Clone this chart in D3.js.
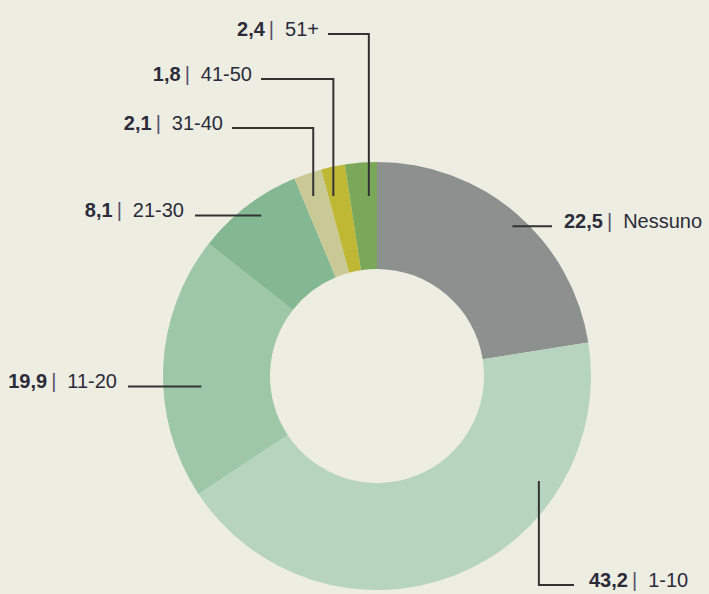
<!DOCTYPE html>
<html>
<head>
<meta charset="utf-8">
<title>donut</title>
<style>
  html, body { margin: 0; padding: 0; background: #eeede2; }
  svg { display: block; }
  .lbl { font-family: "Liberation Sans", Arial, sans-serif; font-size: 20px; fill: #2b2b3a; }
  .lbl .val { font-weight: bold; }
  .lbl .bar { fill: #55506a; }
  .leader { fill: none; stroke: #333; stroke-width: 2px; }
</style>
</head>
<body>
<script src="https://cdn.jsdelivr.net/npm/d3@7"></script>
<script>
// data
var categories = ["Nessuno", "1-10", "11-20", "21-30", "31-40", "41-50", "51+"];
var values = [22.5, 43.2, 19.9, 8.1, 2.1, 1.8, 2.4];
var colors = ["#8c9190", "#b7d4bf", "#9ec7a8", "#83b893", "#c9c996", "#bfb835", "#7ba858"];

// callout layout (t = where in the slice, kind = shape of the leader)
var callouts = [
  {kind: "right", t: 0.52, r: 202, x2: 552},
  {kind: "down",  t: 0.27, r: 193, y2: 585, x2: 574},
  {kind: "left",  t: 0.42, r: 176, x2: 128},
  {kind: "left",  t: 0.55, r: 198, x2: 195},
  {kind: "up",    t: 0.42, y1: 196, y2: 128, x2: 232},
  {kind: "up",    t: 0.23, y1: 196, y2: 79, x2: 261},
  {kind: "up",    t: 0.70, y1: 196, y2: 34, x2: 328}
];

var width = 709, height = 594;
var cx = 377, cy = 376, outerR = 214, innerR = 107;

var svg = d3.select("body").append("svg")
    .attr("width", width)
    .attr("height", height);

var pie = d3.pie().sort(null).value(function (d) { return d; });
var arcs = pie(values);

var arc = d3.arc().innerRadius(innerR).outerRadius(outerR);

var g = svg.append("g").attr("transform", "translate(" + cx + "," + cy + ")");

g.selectAll("path.slice")
    .data(arcs)
    .enter().append("path")
    .attr("class", "slice")
    .attr("d", arc)
    .attr("fill", function (d, i) { return colors[i]; });

function fmt(v) { return d3.format(".1f")(v).replace(".", ","); }

// leaders and labels
arcs.forEach(function (d, i) {
    var c = callouts[i];
    var a = d.startAngle + (d.endAngle - d.startAngle) * c.t;
    var pts, tx, ty, anchor;
    if (c.kind === "up") {
        var dy = cy - c.y1;
        var ax = cx + dy * Math.tan(a);
        pts = [[ax, c.y1], [ax, c.y2], [c.x2, c.y2]];
        tx = c.x2 - 9; ty = c.y2; anchor = "end";
    } else {
        var px = cx + c.r * Math.sin(a), py = cy - c.r * Math.cos(a);
        if (c.kind === "down") {
            pts = [[px, py], [px, c.y2], [c.x2, c.y2]];
            tx = c.x2 + 15; ty = c.y2; anchor = "start";
        } else if (c.kind === "left") {
            pts = [[px, py], [c.x2, py]];
            tx = c.x2 - 11; ty = py; anchor = "end";
        } else {
            pts = [[px, py], [c.x2, py]];
            tx = c.x2 + 12; ty = py; anchor = "start";
        }
    }
    svg.append("path")
        .attr("class", "leader")
        .attr("d", d3.line()(pts));

    var t = svg.append("text")
        .attr("class", "lbl")
        .attr("x", tx)
        .attr("y", ty + 2)
        .attr("text-anchor", anchor);
    t.append("tspan").attr("class", "val").text(fmt(values[i]));
    t.append("tspan").attr("class", "bar").attr("dx", 4).text("|");
    t.append("tspan").attr("dx", 11).text(categories[i]);
});
</script>
</body>
</html>
